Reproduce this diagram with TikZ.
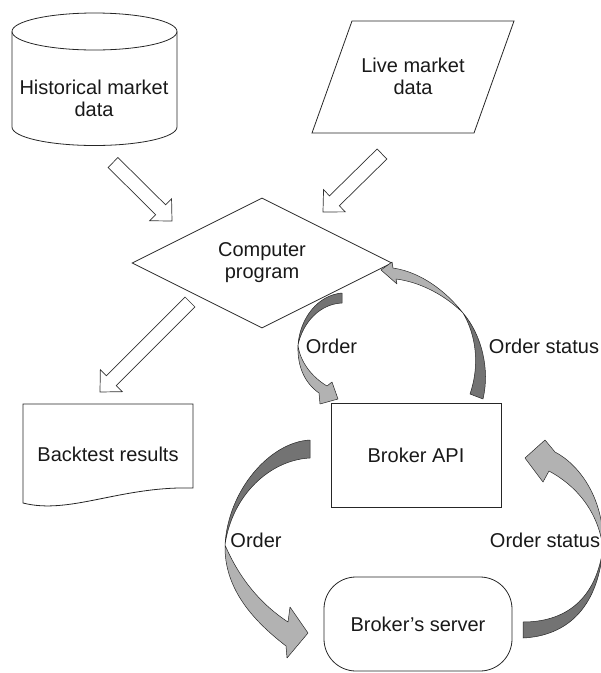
\documentclass[tikz,border=0pt]{standalone}
\usepackage{fontspec}
\setmainfont{Liberation Sans}
\usetikzlibrary{shapes.geometric,calc}

% hollow block arrow from #1 (tail centre) to #2 (tip)
\newcommand{\hollowarrow}[2]{%
  \coordinate (hb) at ($(#2)!16pt!(#1)$);
  \draw[hollow] ($(#1)!7pt!90:(#2)$) -- ($(hb)!7pt!90:(#2)$)
    -- ($(hb)!15.5pt!90:(#2)$) -- (#2) -- ($(hb)!15.5pt!-90:(#2)$)
    -- ($(hb)!7pt!-90:(#2)$) -- ($(#1)!7pt!-90:(#2)$) -- cycle;}

\begin{document}
\begin{tikzpicture}[x=1pt,y=-1pt,
  every node/.style={font=\fontsize{20}{22}\selectfont, text=black!90, inner sep=0pt},
  outline/.style={draw=black!85, line width=0.8pt},
  hollow/.style={draw=black!80, line width=0.7pt, fill=white, line join=miter},
  ribbondark/.style={fill=black!55, draw=black!85, line width=0.5pt, line join=round},
  ribbonlight/.style={fill=black!30, draw=black!85, line width=0.5pt, line join=round},
]
\useasboundingbox (0,0) rectangle (601,673);
\clip (0,0) rectangle (601,673);

% historical data store
\draw[outline] (12,31.5) -- (12,127) arc[start angle=180, end angle=0, x radius=82.5, y radius=18.5] -- (177,31.5);
\draw[outline] (94.5,31.5) ellipse [x radius=82.5, y radius=18.5];
\node[align=center] (hist) at (94,98.7) {Historical market\\data};

% live feed
\draw[outline] (352,21) -- (514,21) -- (474,133) -- (312,133) -- cycle;
\node[align=center] (live) at (413,76.7) {Live market\\data};

% program
\node[diamond, outline, minimum width=260pt, minimum height=130pt, align=center] (prog) at (262,263) {Computer\\program};

% backtest document
\draw[outline] (23,404) -- (193,404) -- (193,488) .. controls (120,486) and (70,515) .. (23,503) -- cycle;
\node (back) at (108,454.7) {Backtest results};

% broker side
\node[rectangle, outline, minimum width=170pt, minimum height=104pt] (api) at (416,455) {Broker API};
\node[rectangle, rounded corners=32pt, outline, minimum width=188pt, minimum height=94pt] (server) at (418,624) {Broker’s server};

% data flow arrows
\coordinate (h1s) at (113,162.5); \coordinate (h1e) at (172,221);
\coordinate (h2s) at (382,154);   \coordinate (h2e) at (323,212);
\coordinate (h3s) at (190,302);   \coordinate (h3e) at (100,392);
\hollowarrow{h1s}{h1e}
\hollowarrow{h2s}{h2e}
\hollowarrow{h3s}{h3e}

% program -> API order
\draw[ribbondark] (342,293) .. controls (318,295) and (300,318) .. (298,345)
  .. controls (303,322) and (320,304) .. (342,303) -- cycle;
\draw[ribbonlight] (298,345) .. controls (297,368) and (306,384) .. (319,393)
  -- (320,404) -- (338,399) -- (332,382) -- (327,386)
  .. controls (312,377) and (300,362) .. (298,345) -- cycle;

% API -> program status
\draw[ribbondark] (470,394) -- (483,399) .. controls (490,370) and (482,335) .. (463,313)
  .. controls (476,335) and (480,365) .. (470,394) -- cycle;
\draw[ribbonlight] (463,313) .. controls (445,290) and (420,272) .. (393,268)
  -- (392,262) -- (381,270) -- (397,284) -- (396,279)
  .. controls (420,282) and (445,295) .. (463,313) -- cycle;

% API -> server order
\draw[ribbondark] (310,440) .. controls (270,442) and (228,490) .. (225,545)
  .. controls (232,495) and (270,460) .. (310,458) -- cycle;
\draw[ribbonlight] (225,545) .. controls (224,590) and (255,622) .. (286,646)
  -- (287,658) -- (308,633) -- (290,607) -- (288,622)
  .. controls (262,605) and (240,580) .. (225,545) -- cycle;

% server -> API status
\draw[ribbondark] (523,622) -- (523,638) .. controls (565,636) and (598,610) .. (603,548)
  .. controls (596,600) and (565,622) .. (523,622) -- cycle;
\draw[ribbonlight] (603,548) .. controls (605,500) and (580,465) .. (555,452)
  -- (545,440) -- (525,458) -- (543,482) -- (549,471)
  .. controls (575,485) and (598,510) .. (603,548) -- cycle;

% labels
\node[anchor=base] (ord1) at (331.5,353) {Order};
\node[anchor=base] (st1) at (544,353) {Order status};
\node[anchor=base] (ord2) at (256,547) {Order};
\node[anchor=base] (st2) at (545,547) {Order status};
\end{tikzpicture}
\end{document}
